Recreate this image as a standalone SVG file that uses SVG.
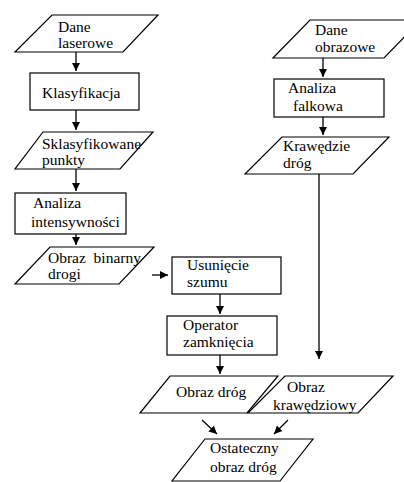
<svg xmlns="http://www.w3.org/2000/svg" width="404" height="482" viewBox="0 0 404 482">
<defs>
<style>
.s{fill:#fff;stroke:#000;stroke-width:1.2}
.t{font-family:'Liberation Serif','Times New Roman',serif;font-size:15.5px;fill:#000}
.c{stroke:#000;stroke-width:1.3;fill:none}
</style>
<marker id="ah" viewBox="0 0 10 10" refX="10" refY="5" markerWidth="8" markerHeight="8" markerUnits="userSpaceOnUse" orient="auto">
<path d="M0,0 L10,5 L0,10 Z" fill="#000"/>
</marker>
</defs>
<rect width="404" height="482" fill="#fff"/>
<g id="connectors">
<line class="c" x1="76" y1="52" x2="76" y2="71" marker-end="url(#ah)"/>
<line class="c" x1="76" y1="110" x2="76" y2="130" marker-end="url(#ah)"/>
<line class="c" x1="76" y1="169" x2="76" y2="191" marker-end="url(#ah)"/>
<line class="c" x1="76" y1="234" x2="76" y2="245" marker-end="url(#ah)"/>
<line class="c" x1="152" y1="275" x2="168" y2="275" marker-end="url(#ah)"/>
<line class="c" x1="220" y1="294" x2="220" y2="314" marker-end="url(#ah)"/>
<line class="c" x1="220" y1="355" x2="220" y2="374" marker-end="url(#ah)"/>
<line class="c" x1="323" y1="58" x2="323" y2="77" marker-end="url(#ah)"/>
<line class="c" x1="323" y1="117" x2="323" y2="135" marker-end="url(#ah)"/>
<line class="c" x1="319" y1="174" x2="319" y2="359" marker-end="url(#ah)"/>
<line class="c" x1="202" y1="420" x2="217" y2="434" marker-end="url(#ah)"/>
<line class="c" x1="288" y1="420" x2="274" y2="434" marker-end="url(#ah)"/>
</g>
<g id="dane-laserowe">
<polygon class="s" points="52,15 158,15 123,52 15,52"/>
<text class="t" x="58" y="32">Dane</text>
<text class="t" x="58" y="48">laserowe</text>
</g>
<g id="klasyfikacja">
<rect class="s" x="30" y="73" width="109" height="37"/>
<text class="t" x="42" y="98">Klasyfikacja</text>
</g>
<g id="sklasyfikowane-punkty">
<polygon class="s" points="43,132 153,132 120,169 15,169"/>
<text class="t" x="42" y="149">Sklasyfikowane</text>
<text class="t" x="42" y="165">punkty</text>
</g>
<g id="analiza-intensywnosci">
<rect class="s" x="15" y="193" width="111" height="41"/>
<text class="t" x="33" y="208">Analiza</text>
<text class="t" x="31" y="227">intensywności</text>
</g>
<g id="obraz-binarny">
<polygon class="s" points="50,247 154,247 119,284 15,284"/>
<text class="t" x="48" y="263" xml:space="preserve">Obraz  binarny</text>
<text class="t" x="48" y="279">drogi</text>
</g>
<g id="usuniecie-szumu">
<rect class="s" x="172" y="257" width="109" height="37"/>
<text class="t" x="187" y="270">Usunięcie</text>
<text class="t" x="187" y="287">szumu</text>
</g>
<g id="operator-zamkniecia">
<rect class="s" x="167" y="316" width="110" height="39"/>
<text class="t" x="183" y="330">Operator</text>
<text class="t" x="183" y="347">zamknięcia</text>
</g>
<g id="obraz-drog">
<polygon class="s" points="170,376 278,376 247,413 140,413"/>
<text class="t" x="176" y="397">Obraz dróg</text>
</g>
<g id="obraz-krawedziowy">
<polygon class="s" points="285,376 393,376 358,413 248,413"/>
<text class="t" x="287" y="392">Obraz</text>
<text class="t" x="273" y="410">krawędziowy</text>
</g>
<g id="ostateczny-obraz-drog">
<polygon class="s" points="205,439 313,439 280,481 172,481"/>
<text class="t" x="210" y="453">Ostateczny</text>
<text class="t" x="210" y="472">obraz dróg</text>
</g>
<g id="dane-obrazowe">
<polygon class="s" points="310,20 421,20 384,58 273,58"/>
<text class="t" x="315" y="35">Dane</text>
<text class="t" x="315" y="52">obrazowe</text>
</g>
<g id="analiza-falkowa">
<rect class="s" x="274" y="79" width="110" height="38"/>
<text class="t" x="288" y="93">Analiza</text>
<text class="t" x="293" y="111">falkowa</text>
</g>
<g id="krawedzie-drog">
<polygon class="s" points="282,137 389,137 353,174 245,174"/>
<text class="t" x="283" y="151">Krawędzie</text>
<text class="t" x="283" y="168">dróg</text>
</g>
</svg>
